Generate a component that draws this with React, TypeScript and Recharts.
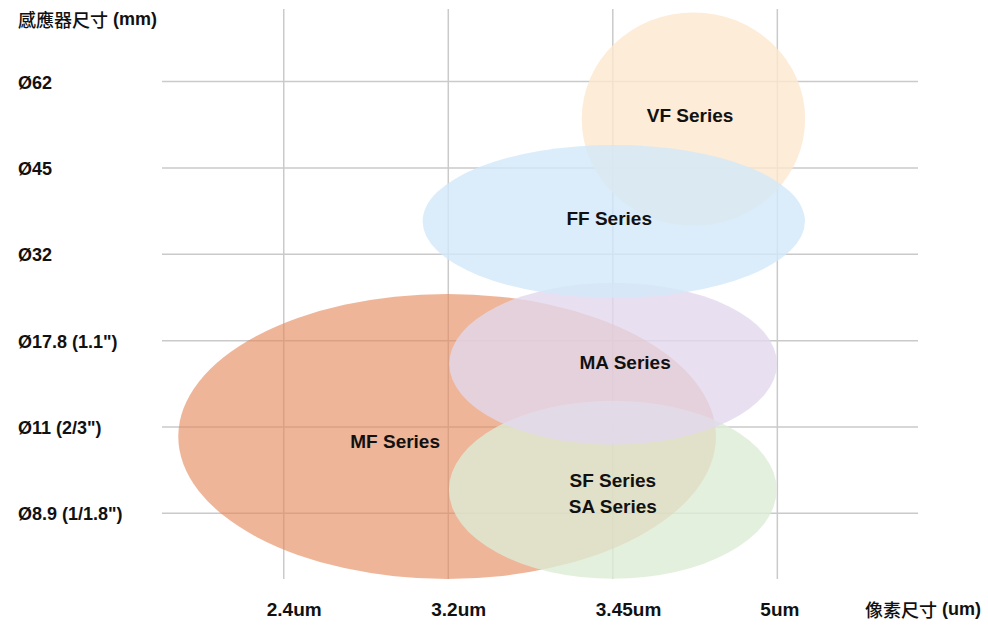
import React from 'react';
import {
  ScatterChart,
  Scatter,
  XAxis,
  YAxis,
  CartesianGrid,
  ReferenceArea,
  Label
} from 'recharts';

// Axis categories (plotted at index positions 0..n-1)
const pixelSizes = ['2.4um', '3.2um', '3.45um', '5um'];
const sensorSizes = ['Ø8.9 (1/1.8")', 'Ø11 (2/3")', 'Ø17.8 (1.1")', 'Ø32', 'Ø45', 'Ø62'];

// Series bubbles: center + half extent, in category steps
const seriesNames = ['MF Series', 'SF Series', 'MA Series', 'VF Series', 'FF Series'];
const centerX = [0.993, 2.0, 2.002, 2.49, 2.006];
const centerY = [0.891, 0.274, 1.733, 4.565, 3.381];
const halfX = [1.634, 0.996, 0.996, 0.679, 1.162];
const halfY = [1.65, 1.03, 0.9375, 1.235, 0.885];
const seriesColors = ['#E4875A', '#DDECD6', '#E2D8EC', '#FCE7CD', '#D2E8F9'];
const seriesOpacity = [0.62, 0.8, 0.8, 0.8, 0.8];

// Series captions
const labelText = ['VF Series', 'FF Series', 'MA Series', 'MF Series', 'SF Series', 'SA Series'];
const labelX = [2.47, 1.978, 2.075, 0.677, 2.0, 2.0];
const labelY = [4.603, 3.411, 1.744, 0.83, 0.378, 0.078];

const labelData = labelText.map((name, i) => ({ name, x: labelX[i], y: labelY[i] }));

const FONT = '"Liberation Sans", Arial, Helvetica, sans-serif';
const CJK = '"Noto Sans CJK TC", "Noto Sans CJK SC", sans-serif';
const TEXT_COLOR = '#111';

const EllipseShape = (props: any) => {
  const w = Math.abs(props.width);
  const h = Math.abs(props.height);
  const x = Math.min(props.x, props.x + props.width);
  const y = Math.min(props.y, props.y + props.height);
  return (
    <ellipse
      cx={x + w / 2}
      cy={y + h / 2}
      rx={w / 2}
      ry={h / 2}
      fill={props.fill}
      fillOpacity={props.fillOpacity}
      stroke="none"
    />
  );
};

const YTick = (props: any) => {
  const { y, payload } = props;
  return (
    <text x={18} y={y + 1} textAnchor="start" dominantBaseline="central"
      fontFamily={FONT} fontWeight="bold" fontSize={18} fill={TEXT_COLOR}>
      {sensorSizes[payload.value]}
    </text>
  );
};

const XTick = (props: any) => {
  const { x, payload } = props;
  return (
    <text x={x - 17} y={609} textAnchor="start" dominantBaseline="central"
      fontFamily={FONT} fontWeight="bold" fontSize={19} fill={TEXT_COLOR}>
      {pixelSizes[payload.value]}
    </text>
  );
};

const CaptionShape = (props: any) => (
  <text x={props.cx} y={props.cy} textAnchor="middle" dominantBaseline="central"
    fontFamily={FONT} fontWeight="bold" fontSize={19} fill={TEXT_COLOR}>
    {props.payload.name}
  </text>
);

const AxisTitle = ({ x, y, cjk, latin }: { x: number; y: number; cjk: string; latin: string }) => (
  <text x={x} y={y} textAnchor="start" dominantBaseline="central" fontSize={18} fill={TEXT_COLOR}>
    <tspan fontFamily={CJK} fontWeight={500}>{cjk}</tspan>
    <tspan fontFamily={FONT} fontWeight="bold">{' ' + latin}</tspan>
  </text>
);

export default function App() {
  return (
    <div style={{ position: 'absolute', left: 0, top: 0, width: 988, height: 626, background: '#fff' }}>
      <ScatterChart width={988} height={626} margin={{ top: 9, right: 70, bottom: 0, left: 0 }}>
        <CartesianGrid stroke="#cacaca" strokeWidth={1.5} syncWithTicks />
        <XAxis
          type="number"
          dataKey="x"
          domain={[-0.74, 3.855]}
          ticks={[0, 1, 2, 3]}
          height={47}
          axisLine={false}
          tickLine={false}
          tick={<XTick />}
          allowDataOverflow
        >
          <Label content={() => <AxisTitle x={865} y={609} cjk="像素尺寸" latin="(um)" />} />
        </XAxis>
        <YAxis
          type="number"
          dataKey="y"
          domain={[-0.76, 5.84]}
          ticks={[0, 1, 2, 3, 4, 5]}
          width={162}
          axisLine={false}
          tickLine={false}
          tick={<YTick />}
          allowDataOverflow
        >
          <Label content={() => <AxisTitle x={18} y={19} cjk="感應器尺寸" latin="(mm)" />} />
        </YAxis>
        {seriesNames.map((name, i) => (
          <ReferenceArea
            key={name}
            x1={centerX[i] - halfX[i]}
            x2={centerX[i] + halfX[i]}
            y1={centerY[i] - halfY[i]}
            y2={centerY[i] + halfY[i]}
            fill={seriesColors[i]}
            fillOpacity={seriesOpacity[i]}
            ifOverflow="visible"
            shape={EllipseShape}
          />
        ))}
        <Scatter data={labelData} shape={CaptionShape} isAnimationActive={false} />
      </ScatterChart>
    </div>
  );
}
